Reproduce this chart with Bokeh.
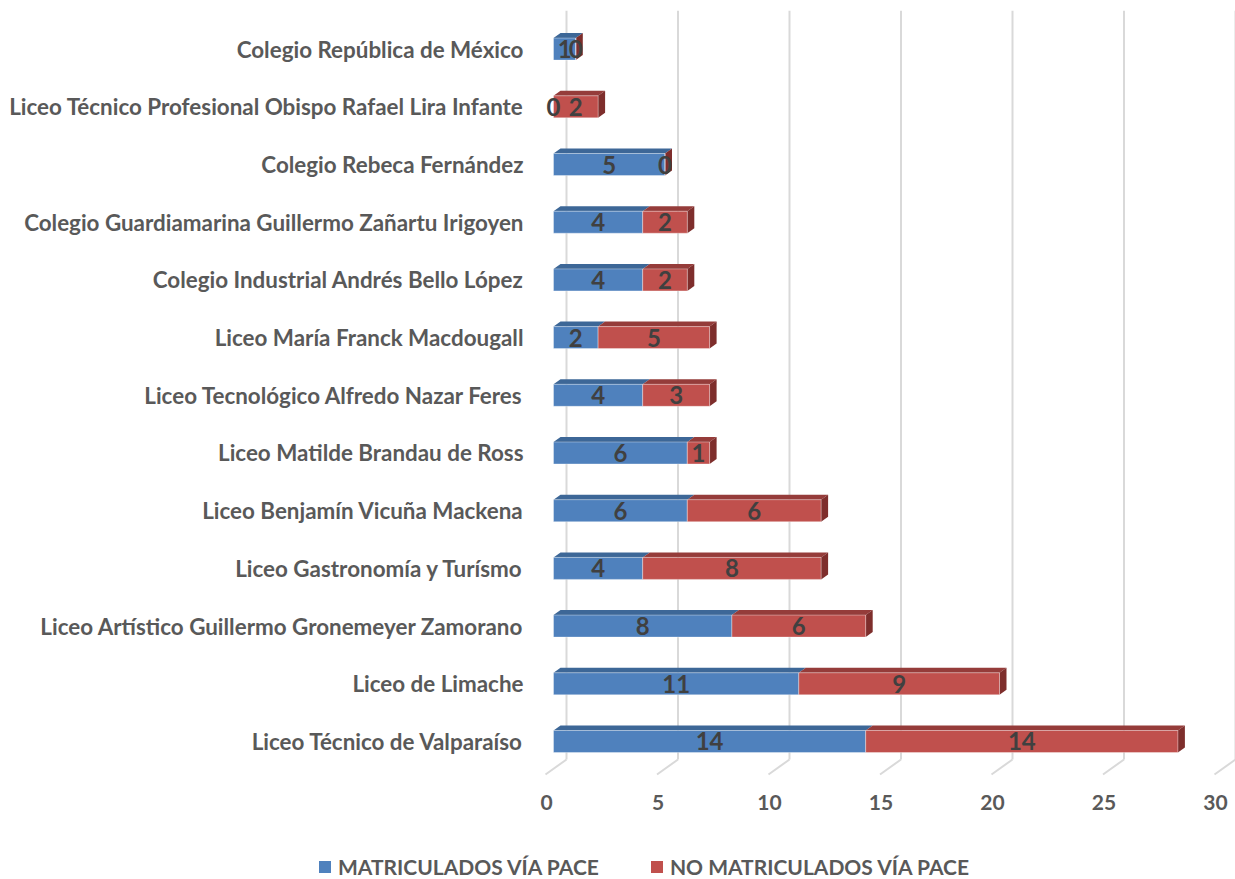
from bokeh.plotting import figure
from bokeh.layouts import column
from bokeh.models import Range1d, LinearAxis, FixedTicker, Legend, LegendItem
from bokeh.core.properties import value
from bokeh.embed import file_html
from bokeh.resources import INLINE

# ---- data (bottom -> top) ----
categories = [
    "Liceo Técnico de Valparaíso",
    "Liceo de Limache",
    "Liceo Artístico Guillermo Gronemeyer Zamorano",
    "Liceo Gastronomía y Turísmo",
    "Liceo Benjamín Vicuña Mackena",
    "Liceo Matilde Brandau de Ross",
    "Liceo Tecnológico Alfredo Nazar Feres",
    "Liceo María Franck Macdougall",
    "Colegio Industrial Andrés Bello López",
    "Colegio Guardiamarina Guillermo Zañartu Irigoyen",
    "Colegio Rebeca Fernández",
    "Liceo Técnico Profesional Obispo Rafael Lira Infante",
    "Colegio República de México",
]
matriculados = [14, 11, 8, 4, 6, 6, 4, 2, 4, 4, 5, 0, 1]
no_matriculados = [14, 9, 6, 8, 6, 1, 3, 5, 2, 2, 0, 2, 0]
series_names = ["MATRICULADOS VÍA PACE", "NO MATRICULADOS VÍA PACE"]
x_ticks = [0, 5, 10, 15, 20, 25, 30]

# ---- style ----
FONT = "Lato"
LABEL_COLOR = "#595959"
VALUE_COLOR = "#404040"
BLUE, BLUE_TOP = "#4F81BD", "#3D6797"
RED, RED_TOP, RED_SIDE = "#C0504D", "#953C3A", "#7E2E2C"
GRID = "#D9D9D9"

PX_X = 22.3    # px per x unit
PX_Y = 57.7    # px per category
H = 22 / PX_Y  # bar front height
DX = 7 / PX_X  # bar depth offsets
DY = 5 / PX_Y
BACK_DX = 13 / PX_X
BACK_Y0 = -18 / PX_Y
FLOOR_DX = -8 / PX_X
FLOOR_Y = -33 / PX_Y
LBL_SHIFT = 7 / PX_X

x0, x1 = -13 / PX_X, (1235 - 553) / PX_X
y0, y1 = -0.676, 12.669

p = figure(width=1235, height=845, x_range=Range1d(x0, x1), y_range=Range1d(y0, y1),
           output_backend="svg", toolbar_location=None, x_axis_location=None,
           min_border_left=540, min_border_top=10, min_border_right=0, min_border_bottom=65)
p.frame_align = False
p.outline_line_color = None
p.xgrid.visible = False
p.ygrid.visible = False

idx = list(range(len(categories)))

# back wall gridlines + floor diagonals
gx = [t + BACK_DX for t in x_ticks]
p.segment(x0=gx, y0=[BACK_Y0] * len(gx), x1=gx, y1=[y1] * len(gx), line_color=GRID, line_width=2)
p.segment(x0=gx, y0=[BACK_Y0] * len(gx), x1=[t + FLOOR_DX for t in x_ticks], y1=[FLOOR_Y] * len(gx),
          line_color=GRID, line_width=2)

def top_faces(lefts, rights):
    xs, ys = [], []
    for i, l, r in zip(idx, lefts, rights):
        t = i + H / 2
        xs.append([l, r, r + DX, l + DX])
        ys.append([t, t, t + DY, t + DY])
    return xs, ys

blue_l = [0] * len(idx)
blue_r = matriculados
red_l = matriculados
red_r = [a + b for a, b in zip(matriculados, no_matriculados)]

bx, by = top_faces(blue_l, blue_r)
p.patches(bx, by, fill_color=BLUE_TOP, line_color=None)
rx, ry = top_faces(red_l, red_r)
p.patches(rx, ry, fill_color=RED_TOP, line_color=None)

# side faces at the right end
sx, sy = [], []
for i, r in zip(idx, red_r):
    sx.append([r, r + DX, r + DX, r])
    sy.append([i - H / 2, i - H / 2 + DY, i + H / 2 + DY, i + H / 2])
p.patches(sx, sy, fill_color=RED_SIDE, line_color=None)

# front faces
p.hbar(y=idx, left=blue_l, right=blue_r, height=H, fill_color=BLUE,
       line_color="white", line_alpha=0.35, line_width=1)
p.hbar(y=idx, left=red_l, right=red_r, height=H, fill_color=RED,
       line_color="white", line_alpha=0.35, line_width=1)

# value labels
lx = [(l + r) / 2 for l, r in zip(blue_l, blue_r)] + [(l + r) / 2 for l, r in zip(red_l, red_r)]
ly = idx + idx
lt = [str(v) for v in matriculados] + [str(v) for v in no_matriculados]
p.text(x=lx, y=ly, text=lt, text_font=value(FONT), text_font_style="bold", text_font_size="24px",
       text_color=VALUE_COLOR, text_align="center", text_baseline="middle")

# left category axis
p.yaxis.ticker = FixedTicker(ticks=idx)
p.yaxis.major_label_overrides = {i: c for i, c in zip(idx, categories)}
p.yaxis.axis_line_color = None
p.yaxis.major_tick_line_color = None
p.yaxis.minor_tick_line_color = None
p.yaxis.major_tick_out = 0
p.yaxis.major_tick_in = 0
p.yaxis.major_label_standoff = 17
p.yaxis.major_label_text_font = FONT
p.yaxis.major_label_text_font_style = "bold"
p.yaxis.major_label_text_font_size = "22.4px"
p.yaxis.major_label_text_color = LABEL_COLOR

# bottom value axis (shifted to floor front edge)
p.extra_x_ranges = {"lbl": Range1d(x0 + LBL_SHIFT, x1 + LBL_SHIFT)}
xa = LinearAxis(x_range_name="lbl", ticker=FixedTicker(ticks=x_ticks))
xa.axis_line_color = None
xa.major_tick_line_color = None
xa.minor_tick_line_color = None
xa.major_tick_out = 0
xa.major_tick_in = 0
xa.major_label_standoff = 14
xa.major_label_text_font = FONT
xa.major_label_text_font_style = "bold"
xa.major_label_text_font_size = "21px"
xa.major_label_text_color = LABEL_COLOR
p.add_layout(xa, "below")

# legend strip below the chart (series renderers kept outside its visible window)
lg = figure(width=1235, height=34, x_range=Range1d(0, 1235), y_range=Range1d(1000, 1034),
            output_backend="svg", toolbar_location=None, x_axis_location=None, y_axis_location=None,
            min_border_left=0, min_border_right=0, min_border_top=0, min_border_bottom=0)
lg.frame_align = False
lg.outline_line_color = None
lg.xgrid.visible = False
lg.ygrid.visible = False
sw_b = lg.hbar(y=idx, left=blue_l, right=blue_r, height=H, fill_color=BLUE, line_color=None)
sw_r = lg.hbar(y=idx, left=red_l, right=red_r, height=H, fill_color=RED, line_color=None)
legend = Legend(items=[LegendItem(label=series_names[0], renderers=[sw_b]),
                       LegendItem(label=series_names[1], renderers=[sw_r])],
                location=(317, 0), orientation="horizontal", spacing=50,
                glyph_width=15, glyph_height=15, label_standoff=6, padding=0, margin=0,
                border_line_color=None, background_fill_alpha=0,
                label_text_font=FONT, label_text_font_style="bold", label_text_font_size="21px",
                label_text_color=LABEL_COLOR)
lg.add_layout(legend, "center")

open("out.html", "w").write(file_html(column(p, lg, spacing=0), INLINE))
